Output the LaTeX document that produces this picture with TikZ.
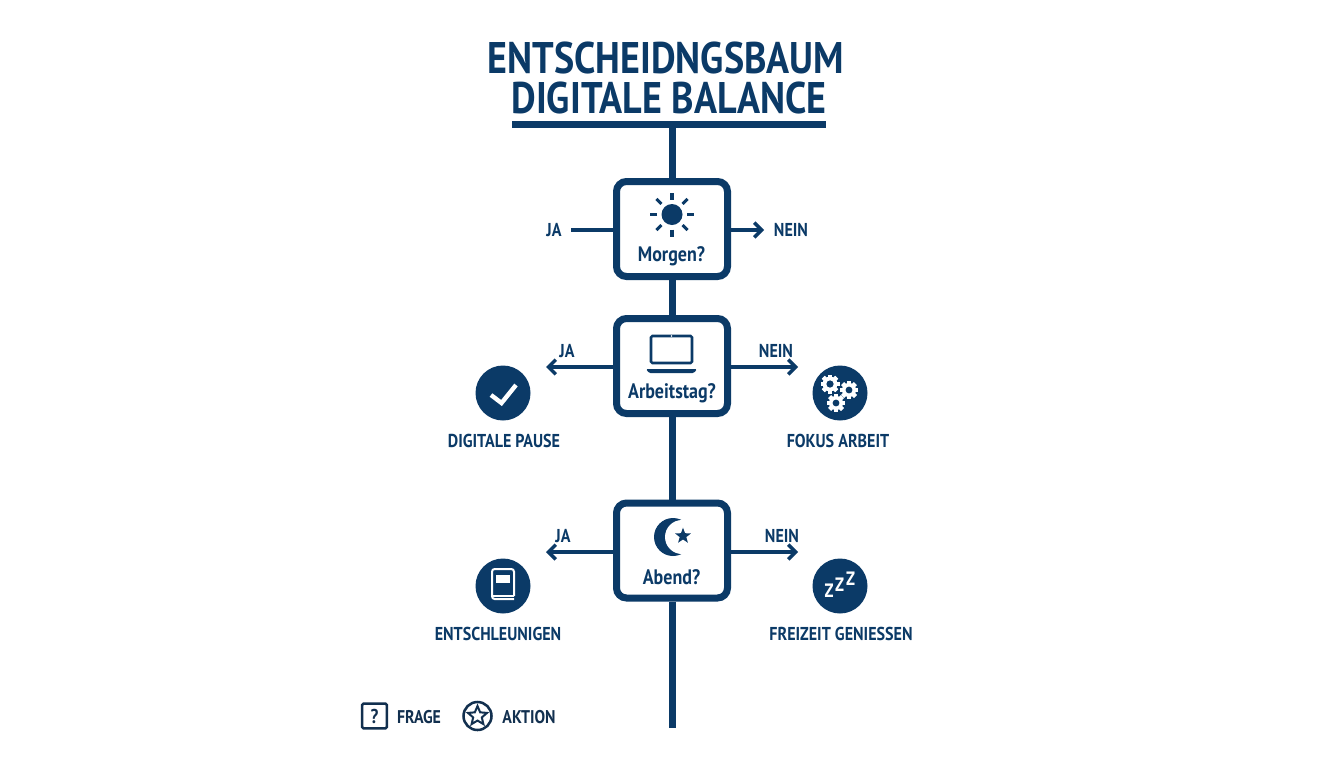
\documentclass[tikz,border=0pt]{standalone}
\usepackage{fontspec}
\setmainfont{PT Sans}
\newfontfamily\narrowbold[FakeStretch=0.86]{PT Sans Bold}
\usetikzlibrary{arrows.meta,shapes.geometric}
\definecolor{navy}{HTML}{0B3A67}
\definecolor{legendnavy}{HTML}{12304F}
\newcommand{\gearicon}[3]{%
  \foreach \a in {0,45,...,315}{\fill[white,rotate around={\a:(#1,#2)}] (#1-#3*0.22,#2-#3) rectangle (#1+#3*0.22,#2+#3);}
  \fill[white] (#1,#2) circle[radius=#3*0.78];
  \fill[navy] (#1,#2) circle[radius=#3*0.38];
}
\tikzset{
  qbox/.style={draw=navy,line width=5.25pt,rounded corners=7.5pt,fill=white,minimum width=83.25pt,minimum height=71.25pt,inner sep=0pt},
  trunk/.style={draw=navy,line width=5.25pt},
  branch/.style={draw=navy,line width=3pt},
  arrowed/.style={branch,-{Straight Barb[length=5.5pt,width=11pt,line width=2.6pt]}},
  action/.style={circle,fill=navy,minimum size=41.25pt,inner sep=0pt},
  titletext/.style={text=navy,font=\narrowbold\fontsize{33.2}{33.2}\selectfont,inner sep=0pt,text height=23pt,text depth=0pt},
  qtext/.style={text=navy,font=\narrowbold\fontsize{15.7}{15.7}\selectfont,inner sep=0pt},
  lbl/.style={text=navy,font=\narrowbold\fontsize{14}{14}\selectfont,inner sep=0pt},
  legendtext/.style={text=legendnavy,font=\narrowbold\fontsize{13.8}{13.8}\selectfont,inner sep=0pt},
  ray/.style={draw=navy,line width=2.3pt},
  icoline/.style={draw=navy,line width=1.9pt},
  zzz/.style={white,font=\narrowbold\fontsize{14.5}{14.5}\selectfont,inner sep=0pt},
}
\begin{document}
\begin{tikzpicture}[x=0.75pt,y=-0.75pt]
\useasboundingbox[fill=white] (0,0) rectangle (1344,768);
% title
\node[titletext] (t1) at (666,58) {ENTSCHEIDNGSBAUM};
\node[titletext] (t2) at (669,98) {DIGITALE BALANCE};
\node[fill=navy,minimum width=235.5pt,minimum height=5.25pt,inner sep=0pt] (rule) at (669,124.5) {};
% question boxes
\node[qbox] (b1) at (672,229) {};
\node[qbox] (b2) at (672,366) {};
\node[qbox] (b3) at (672,550.5) {};
\coordinate (rootbase) at (rule.south -| b1.north);
\coordinate (trunkend) at (672,728);
\draw[trunk] (rootbase) -- (b1.north);
\draw[trunk] (b1.south) -- (b2.north);
\draw[trunk] (b2.south) -- (b3.north);
\draw[trunk] (b3.south) -- (trunkend);
% question labels
\node[qtext] (q1) at (671.5,256) {Morgen?};
\node[qtext] (q2) at (672,393) {Arbeitstag?};
\node[qtext] (q3) at (671.5,577) {Abend?};
% branch labels and ends
\node[lbl] (ja1) at (554,230) {JA};
\node[lbl] (ne1) at (791,230) {NEIN};
\node[lbl] (ja2) at (567,351) {JA};
\node[lbl] (ne2) at (776,351) {NEIN};
\node[lbl] (ja3) at (563,536) {JA};
\node[lbl] (ne3) at (782,536) {NEIN};
\coordinate (j1e) at (571,230);
\coordinate (n1e) at (764,230);
\coordinate (j2e) at (546,367);
\coordinate (n2e) at (798,367);
\coordinate (j3e) at (546,552);
\coordinate (n3e) at (798,552);
\draw[branch] (j1e) -- (j1e -| b1.west);
\draw[arrowed] (n1e -| b1.east) -- (n1e);
\draw[arrowed] (j2e -| b2.west) -- (j2e);
\draw[arrowed] (n2e -| b2.east) -- (n2e);
\draw[arrowed] (j3e -| b3.west) -- (j3e);
\draw[arrowed] (n3e -| b3.east) -- (n3e);
% sun
\fill[navy] (672,214.5) circle[radius=10.5];
\foreach \a in {0,45,...,315}{\draw[ray] (672,214.5)++(\a:15) -- ++(\a:7);}
% laptop
\draw[icoline,rounded corners=1pt] (651,363) -- (651,336) -- (692,336) -- (692,363) -- cycle;
\fill[white] (671.5,336) circle[radius=0.9];
\fill[navy,rounded corners=1pt] (646,369) -- (697,369) -- (694,373) -- (649,373) -- cycle;
% moon
\fill[navy] (673,537) circle[radius=19];
\fill[white] (682,537) circle[radius=17];
\node[star,star points=5,star point ratio=2.4,fill=navy,minimum size=12.5pt,inner sep=0pt] (st) at (683,536) {};
% actions
\node[action] (a1) at (503,393) {};
\node[action] (a2) at (840,393) {};
\node[action] (a3) at (503,586) {};
\node[action] (a4) at (840,586) {};
\node[lbl] (l1) at (504,441) {DIGITALE PAUSE};
\node[lbl] (l2) at (838,441) {FOKUS ARBEIT};
\node[lbl] (l3) at (498,634) {ENTSCHLEUNIGEN};
\node[lbl] (l4) at (841,634) {FREIZEIT GENIESSEN};
% check
\draw[white,line width=3.3pt] (491,395) -- (501.5,403) -- (516,385);
% gears
\gearicon{830}{384}{9.5}
\gearicon{849}{390}{9}
\gearicon{836}{403}{9}
% book
\draw[white,line width=1.5pt,rounded corners=2pt] (514,596) -- (514,569) -- (492,569) -- (492,599) -- (514,599);
\draw[white,line width=1.5pt] (492,596) -- (514,596);
\fill[white] (496,575) rectangle (510,582.5);
% zzz
\node[zzz] (z1) at (829,591) {Z};
\node[zzz] (z2) at (839.5,585) {Z};
\node[zzz] (z3) at (850.5,578.5) {Z};
% legend
\node[draw=legendnavy,line width=1.9pt,rounded corners=1pt,minimum size=18.5pt,inner sep=0pt,text=legendnavy,font=\narrowbold\fontsize{15}{15}\selectfont] (lq) at (374.5,716) {?};
\node[legendtext] (lf) at (419,717) {FRAGE};
\node[circle,draw=legendnavy,line width=1.9pt,minimum size=21pt,inner sep=0pt] (lc) at (477.5,716) {};
\node[star,star points=5,star point ratio=2.2,draw=legendnavy,line width=1.5pt,minimum size=15pt,inner sep=0pt] (ls) at (477.5,716) {};
\node[legendtext] (la) at (529,717) {AKTION};
\end{tikzpicture}
\end{document}
